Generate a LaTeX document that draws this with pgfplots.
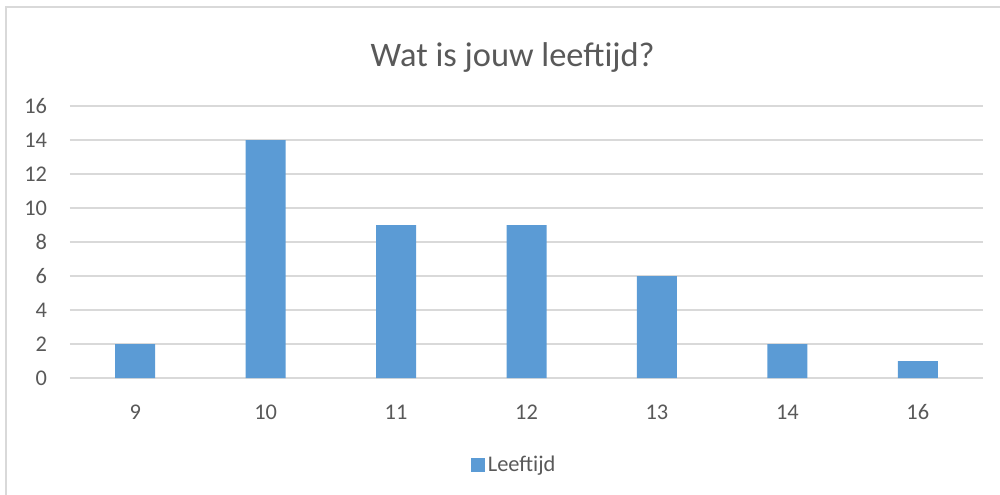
\documentclass[border=0pt]{standalone}
\usepackage{fontspec}
\setmainfont{Carlito}
\usepackage{pgfplots}
\pgfplotsset{compat=1.18}
\definecolor{barblue}{HTML}{5B9BD5}
\definecolor{gridgray}{HTML}{D9D9D9}
\definecolor{txtgray}{HTML}{595959}
\begin{document}
\begin{tikzpicture}
\useasboundingbox (0,0) rectangle (750pt,370.5pt);
\draw[gridgray, line width=1.5pt] (4.5pt,-5pt) -- (4.5pt,364.9pt) -- (760pt,364.9pt);
\node[text=txtgray, font=\fontsize{25.8}{30}\selectfont] at (384.5pt,327pt) {Wat is jouw leeftijd?};
\begin{axis}[
  at={(52.5pt,87pt)}, anchor=south west,
  scale only axis, width=684.75pt, height=204pt,
  xmin=-0.5, xmax=6.5, ymin=0, ymax=16,
  xtick={0,1,2,3,4,5,6},
  xticklabels={9,10,11,12,13,14,16},
  ytick={0,2,...,16},
  ymajorgrids, grid style={gridgray, line width=1pt},
  axis line style={draw=none}, tick style={draw=none},
  /pgf/number format/assume math mode=true,
  ticklabel style={text=txtgray, font=\fontsize{16.8}{20}\selectfont},
  xticklabel style={anchor=center, inner sep=0pt, yshift=-25.5pt},
  yticklabel style={anchor=east, inner sep=0pt, xshift=-17pt},
  legend style={at={(0.487,-0.319)}, anchor=center, draw=none, fill=none,
    font=\fontsize{16.8}{20}\selectfont, text=txtgray, inner sep=0pt,
    /tikz/every even column/.append style={column sep=3pt}},
  legend image code/.code={\fill[barblue] (0pt,-5.25pt) rectangle (10.5pt,5.25pt);},
  legend cell align=left,
]
\addplot[ybar, bar width=30pt, fill=barblue, draw=none, bar shift=0pt]
  coordinates {(0,2) (1,14) (2,9) (3,9) (4,6) (5,2) (6,1)};
\addlegendentry{Leeftijd}
\end{axis}
\end{tikzpicture}
\end{document}
